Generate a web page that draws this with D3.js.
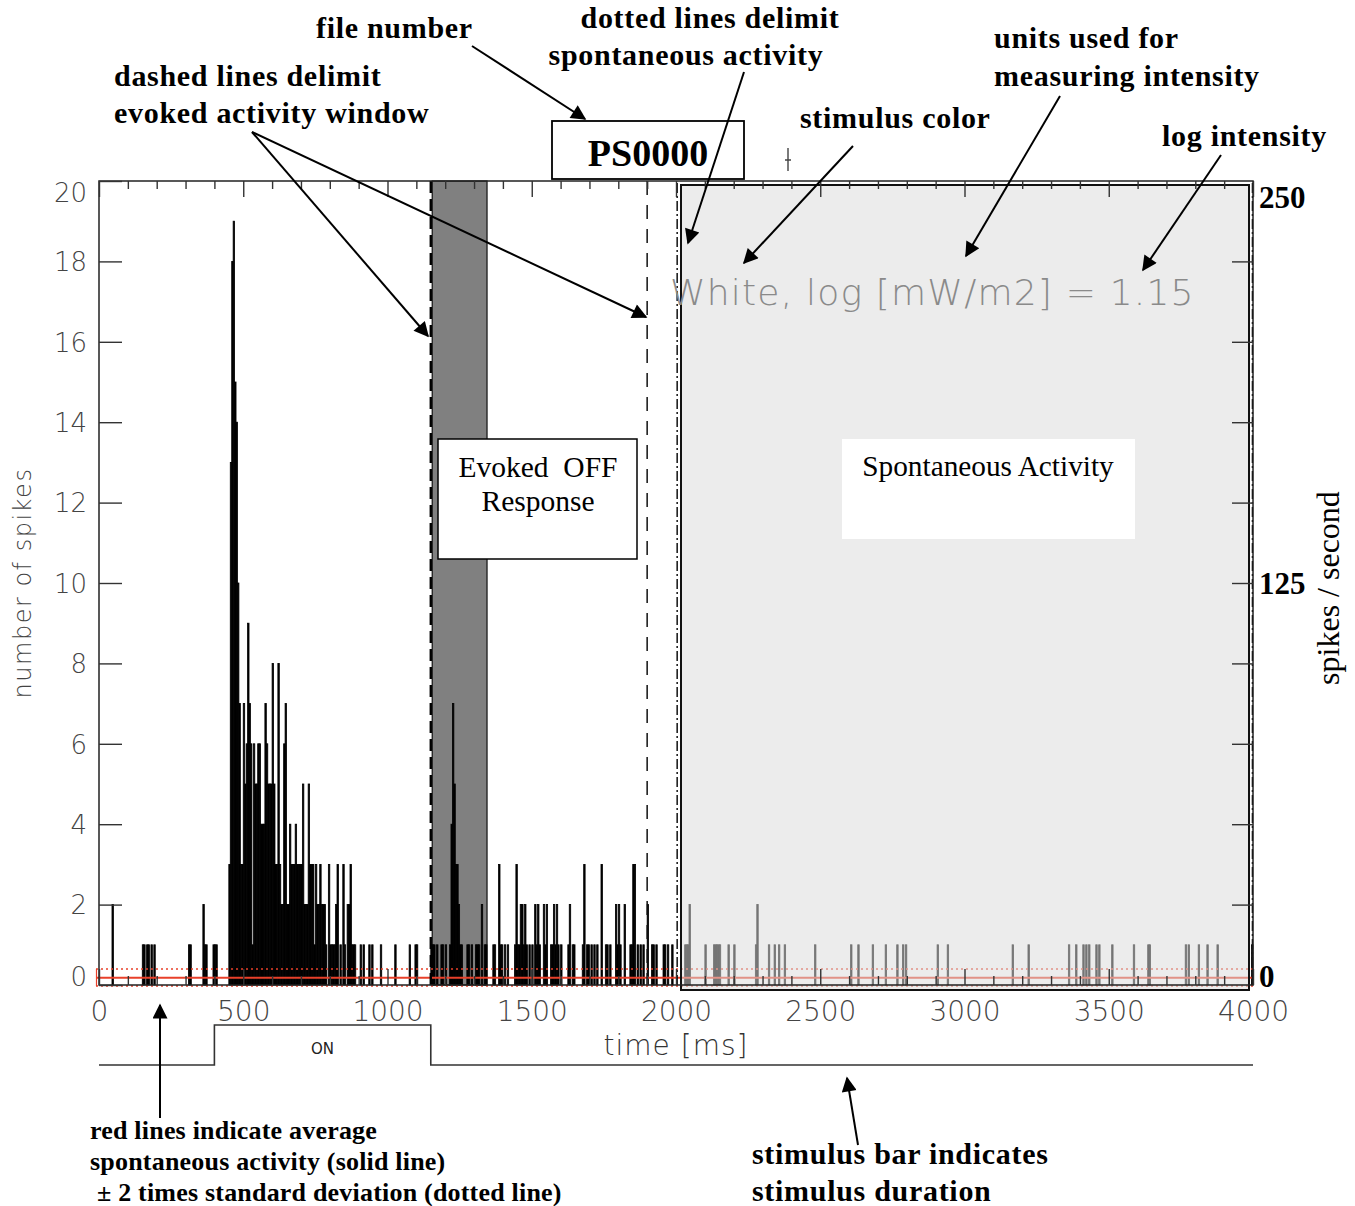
<!DOCTYPE html>
<html>
<head>
<meta charset="utf-8">
<script src="https://cdn.jsdelivr.net/npm/d3@7"></script>
<style>
  body { margin: 0; background: #fff; }
  svg { display: block; }
</style>
</head>
<body>
<div id="chart"></div>
<script>
// PSTH, 5 ms bins; only the non-empty bins are listed
const binWidth = 5;
const binStart = [
  45, 150, 155, 165, 170, 180, 190, 310, 315, 360, 365, 370, 395, 400, 405,
  450, 455, 460, 465, 470, 475, 480, 485, 490, 495, 500, 505, 510, 515, 520, 525, 530, 535,
  540, 545, 550, 555, 560, 565, 570, 575, 580, 585, 590, 595, 600, 605, 610, 615, 620, 625,
  630, 635, 640, 645, 650, 655, 660, 665, 670, 675, 680, 685, 690, 695, 700, 705, 710, 715,
  720, 725, 730, 735, 740, 745, 750, 755, 760, 765, 770, 775, 780, 785, 795, 800, 805, 810,
  815, 820, 825, 835, 845, 850, 860, 865, 870, 875, 880, 885, 905, 915, 935, 945, 975,
  1025, 1075, 1095, 1100,
  1150, 1155, 1160, 1170, 1185, 1190, 1200, 1215, 1220, 1225, 1230, 1235, 1240, 1245, 1250,
  1255, 1275, 1280, 1290, 1305, 1310, 1315, 1325, 1335, 1340,
  1365, 1370, 1385, 1390, 1395, 1405, 1415, 1440, 1445, 1450, 1455, 1460, 1465, 1470, 1475,
  1480, 1490, 1500, 1510, 1515, 1520, 1525, 1540, 1545, 1550, 1565, 1570, 1575, 1580, 1585,
  1590, 1600, 1625, 1630, 1640, 1645, 1675, 1680, 1690, 1695, 1705, 1715, 1725, 1740, 1755,
  1760, 1770, 1790, 1795, 1800, 1805, 1820, 1840, 1845, 1850, 1855, 1865, 1875, 1885, 1900,
  1915, 1920, 1930, 1955, 1960, 1970, 1985,
  2030, 2035, 2040, 2045, 2100, 2130, 2135, 2140, 2145, 2150, 2180, 2200, 2275, 2280, 2320,
  2340, 2355, 2375, 2480, 2605, 2630, 2680, 2725, 2765, 2785, 2795, 2905, 2940, 3165, 3220,
  3360, 3385, 3410, 3420, 3430, 3455, 3465, 3510, 3585, 3635, 3640, 3765, 3775, 3810, 3840,
  3875, 3995
];
const binCount = [
  2, 1, 1, 1, 1, 1, 1, 1, 1, 2, 1, 1, 1, 1, 1,
  3, 13, 18, 19, 15, 14, 10, 7, 3, 3, 7, 5, 6, 9, 7, 6, 1, 6,
  5, 5, 6, 6, 4, 4, 4, 7, 6, 5, 5, 5, 8, 5, 3, 3, 8, 3,
  2, 2, 6, 7, 2, 2, 4, 3, 3, 3, 4, 3, 3, 3, 3, 5, 2, 2,
  2, 5, 3, 3, 3, 1, 3, 2, 2, 3, 2, 2, 2, 1, 3, 1, 1, 1,
  1, 2, 3, 1, 3, 1, 2, 2, 3, 1, 1, 1, 1, 1, 1, 1, 1,
  1, 1, 1, 1,
  1, 1, 1, 1, 1, 1, 1, 1, 4, 7, 5, 3, 3, 2, 1,
  1, 1, 1, 1, 1, 1, 1, 2, 1, 1,
  1, 1, 3, 1, 1, 1, 1, 1, 3, 1, 1, 2, 2, 1, 2,
  1, 1, 1, 2, 1, 2, 1, 2, 1, 2, 1, 1, 2, 1, 2,
  1, 1, 1, 2, 1, 1, 1, 3, 1, 1, 1, 1, 1, 3, 1,
  1, 1, 2, 1, 2, 1, 2, 1, 1, 3, 3, 1, 1, 1, 2,
  1, 1, 1, 1, 1, 1, 1,
  1, 1, 1, 2, 1, 1, 1, 1, 1, 1, 1, 1, 1, 2, 1,
  1, 1, 1, 1, 1, 1, 1, 1, 1, 1, 1, 1, 1, 1, 1,
  1, 1, 1, 1, 1, 1, 1, 1, 1, 1, 1, 1, 1, 1, 1,
  1, 1
];

// windows (ms) and spontaneous statistics (spikes per bin)
const evokedWindow = [1150, 1900];
const offBand = [1155, 1345];
const spontWindow = [2000, 4000];
const spontMean = 0.18;
const spontBand = [0.0, 0.4];
const stimulus = [400, 1150];

const xTicks = [0, 500, 1000, 1500, 2000, 2500, 3000, 3500, 4000];
const yTicks = [0, 2, 4, 6, 8, 10, 12, 14, 16, 18, 20];
const rateTicks = [0, 125, 250];

const W = 1355, H = 1206;
const svg = d3.select("#chart").append("svg")
  .attr("width", W).attr("height", H)
  .style("background", "#fff");

const x = d3.scaleLinear().domain([0, 4000]).range([99, 1253]);
const y = d3.scaleLinear().domain([0, 20]).range([985, 181]);
const yRate = d3.scaleLinear().domain([0, 250]).range([985, 181]);

const sans = "'DejaVu Sans', 'Liberation Sans', sans-serif";
const serif = "'Liberation Serif', 'Times New Roman', serif";

const defs = svg.append("defs");
defs.append("marker")
  .attr("id", "arrow")
  .attr("viewBox", "0 0 10 10")
  .attr("refX", 9).attr("refY", 5)
  .attr("markerUnits", "userSpaceOnUse")
  .attr("markerWidth", 18).attr("markerHeight", 15)
  .attr("orient", "auto")
  .append("path").attr("d", "M0,0 L10,5 L0,10 z").attr("fill", "#000");

const plot = svg.append("g");

// evoked OFF response band
plot.append("rect")
  .attr("x", x(offBand[0])).attr("y", y(20))
  .attr("width", x(offBand[1]) - x(offBand[0]))
  .attr("height", y(0) - y(20))
  .attr("fill", "#808080").attr("stroke", "#111").attr("stroke-width", 1.2);

// histogram
const bins = binStart.map((t, i) => ({ t, n: binCount[i] }));
plot.append("g").selectAll("rect")
  .data(bins)
  .join("rect")
  .attr("x", d => x(d.t))
  .attr("y", d => y(d.n))
  .attr("width", x(binWidth) - x(0))
  .attr("height", d => y(0) - y(d.n))
  .attr("fill", "#000")
  .attr("stroke", "#000").attr("stroke-width", 0.8);

// red lines: mean and +/- 2 sd
plot.append("line")
  .attr("x1", 96).attr("x2", x(4000))
  .attr("y1", y(spontMean)).attr("y2", y(spontMean))
  .attr("stroke", "#e8402a").attr("stroke-width", 2.2);
spontBand.forEach(v => {
  plot.append("line")
    .attr("x1", 96).attr("x2", x(4000))
    .attr("y1", y(v) + (v === 0 ? 1 : 0)).attr("y2", y(v) + (v === 0 ? 1 : 0))
    .attr("stroke", "#e8402a").attr("stroke-width", 1.5)
    .attr("stroke-dasharray", "2,3");
});
plot.append("line")
  .attr("x1", 96.5).attr("x2", 96.5)
  .attr("y1", y(spontBand[1])).attr("y2", y(0) + 1)
  .attr("stroke", "#e8402a").attr("stroke-width", 1.2);

// dashed lines for evoked window
plot.append("line")
  .attr("x1", x(evokedWindow[0])).attr("x2", x(evokedWindow[0]))
  .attr("y1", y(20)).attr("y2", y(0))
  .attr("stroke", "#000").attr("stroke-width", 2.4)
  .attr("stroke-dasharray", "12,6");
plot.append("line")
  .attr("x1", x(evokedWindow[1])).attr("x2", x(evokedWindow[1]))
  .attr("y1", y(20)).attr("y2", y(0))
  .attr("stroke", "#111").attr("stroke-width", 1.5)
  .attr("stroke-dasharray", "14,10");

// dash-dot lines for spontaneous window
[spontWindow[0] + 4, spontWindow[1] - 2].forEach(t => {
  plot.append("line")
    .attr("x1", x(t)).attr("x2", x(t))
    .attr("y1", y(20) + 2).attr("y2", y(0))
    .attr("stroke", "#000").attr("stroke-width", 1.4)
    .attr("stroke-dasharray", "10,3,2,3");
});

// spontaneous activity shading (drawn over the histogram)
plot.append("rect")
  .attr("x", x(spontWindow[0]) + 5).attr("y", 185)
  .attr("width", x(spontWindow[1]) - x(spontWindow[0]) - 9)
  .attr("height", 805)
  .attr("fill", "#dbdbdb").attr("fill-opacity", 0.53)
  .attr("stroke", "#111").attr("stroke-width", 2);

plot.append("text")
  .attr("x", 670).attr("y", 305)
  .attr("font-family", sans).attr("font-size", 36).attr("font-weight", 300)
  .attr("letter-spacing", 1.2)
  .attr("fill", "#8a8a8a")
  .text("White, log [mW/m2] = 1.15");

// text boxes
plot.append("rect")
  .attr("x", 438).attr("y", 439).attr("width", 199).attr("height", 120)
  .attr("fill", "#fff").attr("stroke", "#000").attr("stroke-width", 1.5);
plot.append("text").attr("x", 538).attr("y", 477)
  .attr("text-anchor", "middle").attr("font-family", serif).attr("font-size", 29.5)
  .attr("xml:space", "preserve")
  .text("Evoked  OFF");
plot.append("text").attr("x", 538).attr("y", 511)
  .attr("text-anchor", "middle").attr("font-family", serif).attr("font-size", 29.5)
  .text("Response");

plot.append("rect")
  .attr("x", 842).attr("y", 439).attr("width", 293).attr("height", 100)
  .attr("fill", "#fff");
plot.append("text").attr("x", 988).attr("y", 476)
  .attr("text-anchor", "middle").attr("font-family", serif).attr("font-size", 29.3)
  .text("Spontaneous Activity");

// frame
plot.append("rect")
  .attr("x", x(0)).attr("y", y(20))
  .attr("width", x(4000) - x(0)).attr("height", y(0) - y(20))
  .attr("fill", "none").attr("stroke", "#222").attr("stroke-width", 1.5);

// axes
const minorX = d3.range(0, 4001, 100).filter(v => v % 500 !== 0);

function styleAxis(g, size) {
  g.select(".domain").remove();
  g.selectAll(".tick line").attr("stroke", "#333").attr("stroke-width", 1.4);
  g.selectAll(".tick text")
    .attr("font-family", sans).attr("font-size", size || 26).attr("font-weight", 300)
    .attr("fill", "#444");
}

svg.append("g").attr("transform", `translate(0,${y(0)})`)
  .call(d3.axisBottom(x).tickValues(xTicks).tickSize(-16).tickPadding(16)
    .tickFormat(d3.format("d")))
  .call(styleAxis, 28);
svg.append("g").attr("transform", `translate(0,${y(0)})`)
  .call(d3.axisBottom(x).tickValues(minorX).tickSize(-9).tickFormat(""))
  .call(styleAxis);
svg.append("g").attr("transform", `translate(0,${y(20)})`)
  .call(d3.axisTop(x).tickValues(xTicks).tickSize(-16).tickFormat(""))
  .call(styleAxis);
svg.append("g").attr("transform", `translate(0,${y(20)})`)
  .call(d3.axisTop(x).tickValues(minorX).tickSize(-8).tickFormat(""))
  .call(styleAxis);

const leftAxis = svg.append("g").attr("transform", `translate(${x(0)},0)`)
  .call(d3.axisLeft(y).tickValues(yTicks).tickSize(-23).tickPadding(12))
  .call(styleAxis, 26);
leftAxis.selectAll(".tick text")
  .attr("dy", d => d === 20 ? "0.8em" : d === 0 ? "0.02em" : "0.36em");

svg.append("g").attr("transform", `translate(${x(4000)},0)`)
  .call(d3.axisRight(y).tickValues(yTicks.filter(v => v > 0 && v < 20)).tickSize(-21).tickFormat(""))
  .call(styleAxis);

const rightAxis = svg.append("g").attr("transform", `translate(${x(4000)},0)`)
  .call(d3.axisRight(yRate).tickValues(rateTicks).tickSize(0).tickPadding(6));
rightAxis.select(".domain").remove();
rightAxis.selectAll(".tick text")
  .attr("font-family", serif).attr("font-size", 31).attr("font-weight", "bold")
  .attr("fill", "#000")
  .attr("dy", d => d === 250 ? "0.85em" : d === 0 ? "0.05em" : "0.35em");

// axis titles
svg.append("text")
  .attr("transform", "translate(31,583) rotate(-90)")
  .attr("text-anchor", "middle")
  .attr("font-family", sans).attr("font-size", 24).attr("font-weight", 300)
  .attr("letter-spacing", 1.5).attr("fill", "#444")
  .text("number of spikes");
svg.append("text")
  .attr("x", 676).attr("y", 1055)
  .attr("text-anchor", "middle")
  .attr("font-family", sans).attr("font-size", 28).attr("font-weight", 300)
  .attr("letter-spacing", 1).attr("fill", "#333")
  .text("time [ms]");
svg.append("text")
  .attr("transform", "translate(1339,588) rotate(-90)")
  .attr("text-anchor", "middle")
  .attr("font-family", serif).attr("font-size", 32)
  .text("spikes / second");

// stimulus bar
const stimLow = 1065, stimHigh = 1025;
const stimPts = [
  [0, stimLow], [stimulus[0], stimLow], [stimulus[0], stimHigh],
  [stimulus[1], stimHigh], [stimulus[1], stimLow], [4000, stimLow]
];
svg.append("path")
  .attr("d", d3.line().x(d => x(d[0])).y(d => d[1])(stimPts))
  .attr("fill", "none").attr("stroke", "#333").attr("stroke-width", 1.6);
svg.append("text")
  .attr("x", x((stimulus[0] + stimulus[1]) / 2)).attr("y", 1054)
  .attr("text-anchor", "middle")
  .attr("font-family", sans).attr("font-size", 15).attr("fill", "#222")
  .text("ON");

// file number box
svg.append("rect")
  .attr("x", 552).attr("y", 121).attr("width", 192).attr("height", 58)
  .attr("fill", "#fff").attr("stroke", "#000").attr("stroke-width", 1.8);
svg.append("text")
  .attr("x", 648).attr("y", 166)
  .attr("text-anchor", "middle")
  .attr("font-family", serif).attr("font-size", 38).attr("font-weight", "bold")
  .text("PS0000");
svg.append("path")
  .attr("d", "M788,148 L788,171 M785,160 L791,160")
  .attr("stroke", "#444").attr("stroke-width", 1.4);

// annotations
const notes = [
  { x: 316, y: 38, t: "file number" },
  { x: 710, y: 28, t: "dotted lines delimit", anchor: "middle" },
  { x: 686, y: 65, t: "spontaneous activity", anchor: "middle" },
  { x: 114, y: 86, t: "dashed lines delimit" },
  { x: 114, y: 123, t: "evoked activity window" },
  { x: 800, y: 128, t: "stimulus color" },
  { x: 994, y: 48, t: "units used for" },
  { x: 994, y: 86, t: "measuring intensity" },
  { x: 1162, y: 146, t: "log intensity" },
  { x: 752, y: 1164, t: "stimulus bar indicates" },
  { x: 752, y: 1201, t: "stimulus duration" }
];
svg.append("g").selectAll("text")
  .data(notes)
  .join("text")
  .attr("x", d => d.x).attr("y", d => d.y)
  .attr("text-anchor", d => d.anchor || "start")
  .attr("font-family", serif).attr("font-size", 30).attr("font-weight", "bold")
  .attr("letter-spacing", 0.7)
  .text(d => d.t);

const smallNotes = [
  { x: 90, y: 1139, t: "red lines indicate average" },
  { x: 90, y: 1170, t: "spontaneous activity (solid line)" },
  { x: 97, y: 1201, t: "\u00b1 2 times standard deviation (dotted line)" }
];
svg.append("g").selectAll("text")
  .data(smallNotes)
  .join("text")
  .attr("x", d => d.x).attr("y", d => d.y)
  .attr("font-family", serif).attr("font-size", 26).attr("font-weight", "bold")
  .attr("letter-spacing", 0.2)
  .text(d => d.t);

const arrows = [
  [472, 46, 585, 119],
  [744, 72, 688, 243],
  [252, 132, 428, 336],
  [252, 132, 646, 317],
  [853, 146, 744, 263],
  [1060, 96, 966, 256],
  [1221, 155, 1143, 270],
  [160, 1118, 160, 1005],
  [858, 1145, 847, 1078]
];
svg.append("g").selectAll("line")
  .data(arrows)
  .join("line")
  .attr("x1", d => d[0]).attr("y1", d => d[1])
  .attr("x2", d => d[2]).attr("y2", d => d[3])
  .attr("stroke", "#000").attr("stroke-width", 2)
  .attr("marker-end", "url(#arrow)");
</script>
</body>
</html>
